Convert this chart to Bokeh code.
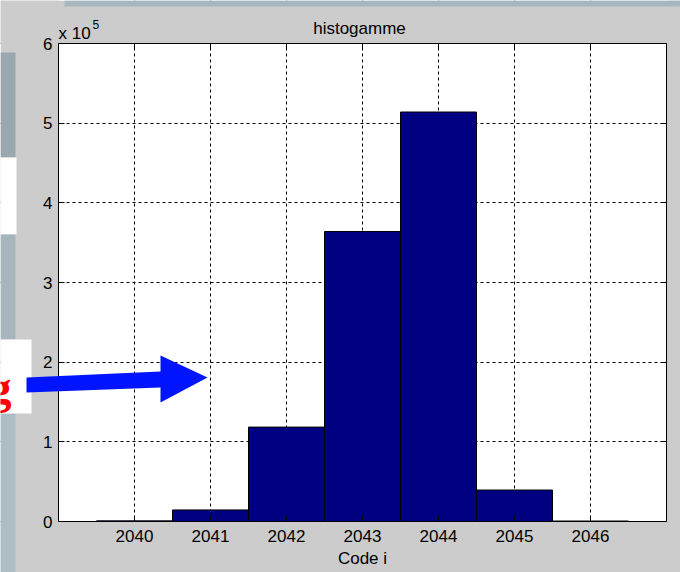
from bokeh.plotting import figure
from bokeh.models import (Range1d, FixedTicker, LinearAxis, Label, BoxAnnotation,
                          PolyAnnotation)
from bokeh.embed import file_html
from bokeh.resources import INLINE

# histogram of codes
codes = [2040, 2041, 2042, 2043, 2044, 2045, 2046]
counts = [800, 14500, 118500, 364000, 514000, 39500, 600]
y_tick_values = [0, 1, 2, 3, 4, 5, 6]
y_exponent = 5
x_tick_labels = ["2040", "2041", "2042", "2043", "2044", "2045", "2046"]

W, H = 680, 572
FL, FR, FT, FB = 58, 666, 43, 521          # axes box edges in canvas pixels
X0, X1 = 2039, 2047
Y0, Y1 = 0, 6 * 10 ** y_exponent

FONT = "Liberation Sans"
FIG_GRAY = "#cccccc"


def cx(px):
    # canvas pixel column -> data x
    return X0 + (px - FL) * (X1 - X0) / (FR - FL)


def cy(py):
    # canvas pixel row -> data y
    return Y0 + (FB - py) * (Y1 - Y0) / (FB - FT)


# the plotting frame covers the whole canvas; the axes box is drawn inside it
p = figure(width=W, height=H, output_backend="svg", toolbar_location=None,
           x_range=Range1d(cx(0), cx(W)), y_range=Range1d(cy(H), cy(0)),
           min_border=0)
p.border_fill_color = FIG_GRAY
p.background_fill_color = "white"
p.outline_line_color = None

# bars
p.vbar(x=codes, width=1, top=counts, bottom=0,
       fill_color="#000080", line_color="black", line_width=1)

xt = FixedTicker(ticks=codes)
yt = FixedTicker(ticks=[v * 10 ** y_exponent for v in y_tick_values])
x_over = {c: s for c, s in zip(codes, x_tick_labels)}
y_over = {v * 10 ** y_exponent: str(v) for v in y_tick_values}


def style_axis(ax):
    ax.axis_line_color = "black"
    ax.axis_line_width = 1
    ax.major_tick_line_color = "black"
    ax.major_tick_in = 6
    ax.major_tick_out = 0
    ax.minor_tick_line_color = None
    ax.major_label_text_font = FONT
    ax.major_label_text_font_size = "17px"
    ax.major_label_text_color = "black"
    ax.level = "overlay"


xa = p.xaxis[0]
xa.ticker = xt
xa.major_label_overrides = x_over
xa.fixed_location = Y0
xa.bounds = (X0, X1)
xa.axis_label = "Code i"
xa.axis_label_text_font = FONT
xa.axis_label_text_font_size = "17px"
xa.axis_label_text_font_style = "normal"
xa.axis_label_text_color = "black"
xa.axis_label_standoff = 4
xa.major_label_standoff = 8
style_axis(xa)

ya = p.yaxis[0]
ya.ticker = yt
ya.major_label_overrides = y_over
ya.fixed_location = X0
ya.bounds = (Y0, Y1)
ya.major_label_standoff = 6
style_axis(ya)

top_ax = LinearAxis(ticker=xt, fixed_location=Y1, bounds=(X0, X1),
                    major_label_overrides={c: "" for c in codes})
style_axis(top_ax)
p.add_layout(top_ax, "above")
right_ax = LinearAxis(ticker=yt, fixed_location=X1, bounds=(Y0, Y1),
                      major_label_overrides={v * 10 ** y_exponent: "" for v in y_tick_values})
style_axis(right_ax)
p.add_layout(right_ax, "right")

p.xgrid.ticker = xt
p.ygrid.ticker = yt
for g in (p.xgrid, p.ygrid):
    g.grid_line_color = "black"
    g.grid_line_dash = "3 3"
    g.grid_line_width = 1

# figure background around the axes box
for kw in (dict(bottom=Y1), dict(top=Y0), dict(right=X0), dict(left=X1)):
    p.add_layout(BoxAnnotation(fill_color=FIG_GRAY, fill_alpha=1, line_color=None,
                               level="annotation", **kw))

# surrounding slide panels
panels = [
    (64, 680, 0, 6, "#a8b7bf"),
    (0, 15, 52, 157, "#9aa7ae"),
    (0, 16, 157, 234, "#ffffff"),
    (0, 15, 234, 339, "#a7b5bd"),
    (0, 15, 413, 572, "#adbdc6"),
    (0, 31, 339, 413, "#ffffff"),
]
for l, r, t, b, col in panels:
    p.add_layout(BoxAnnotation(left=cx(l), right=cx(r), top=cy(t), bottom=cy(b),
                               fill_color=col, fill_alpha=1, line_color=None,
                               level="annotation"))

# title and exponent
p.add_layout(Label(x=cx(359), y=cy(28), text="histogamme", text_align="center",
                   text_baseline="alphabetic", text_font=FONT,
                   text_font_size="17px", text_color="black", level="overlay"))
p.add_layout(Label(x=cx(58), y=cy(33), text="x 10", text_align="left",
                   text_baseline="alphabetic", text_font=FONT,
                   text_font_size="17px", text_color="black", level="overlay"))
p.add_layout(Label(x=cx(92), y=cy(24), text=str(y_exponent), text_align="left",
                   text_baseline="alphabetic", text_font=FONT,
                   text_font_size="12px", text_color="black", level="overlay"))

p.add_layout(Label(x=cx(11), y=cy(387), text="g", text_align="right",
                   text_baseline="alphabetic", text_font="Liberation Serif",
                   text_font_style="bold", text_font_size="46px",
                   text_color="#ff0000", level="overlay"))

# pointing arrow
arrow_px = [26, 160, 160, 207, 160, 160, 26]
arrow_py = [377, 371, 355, 377, 402, 387, 392]
p.add_layout(PolyAnnotation(xs=[cx(v) for v in arrow_px],
                            ys=[cy(v) for v in arrow_py],
                            fill_color="#0014ff", fill_alpha=1, line_color=None,
                            level="overlay"))

open("out.html", "w").write(file_html(p, INLINE))
